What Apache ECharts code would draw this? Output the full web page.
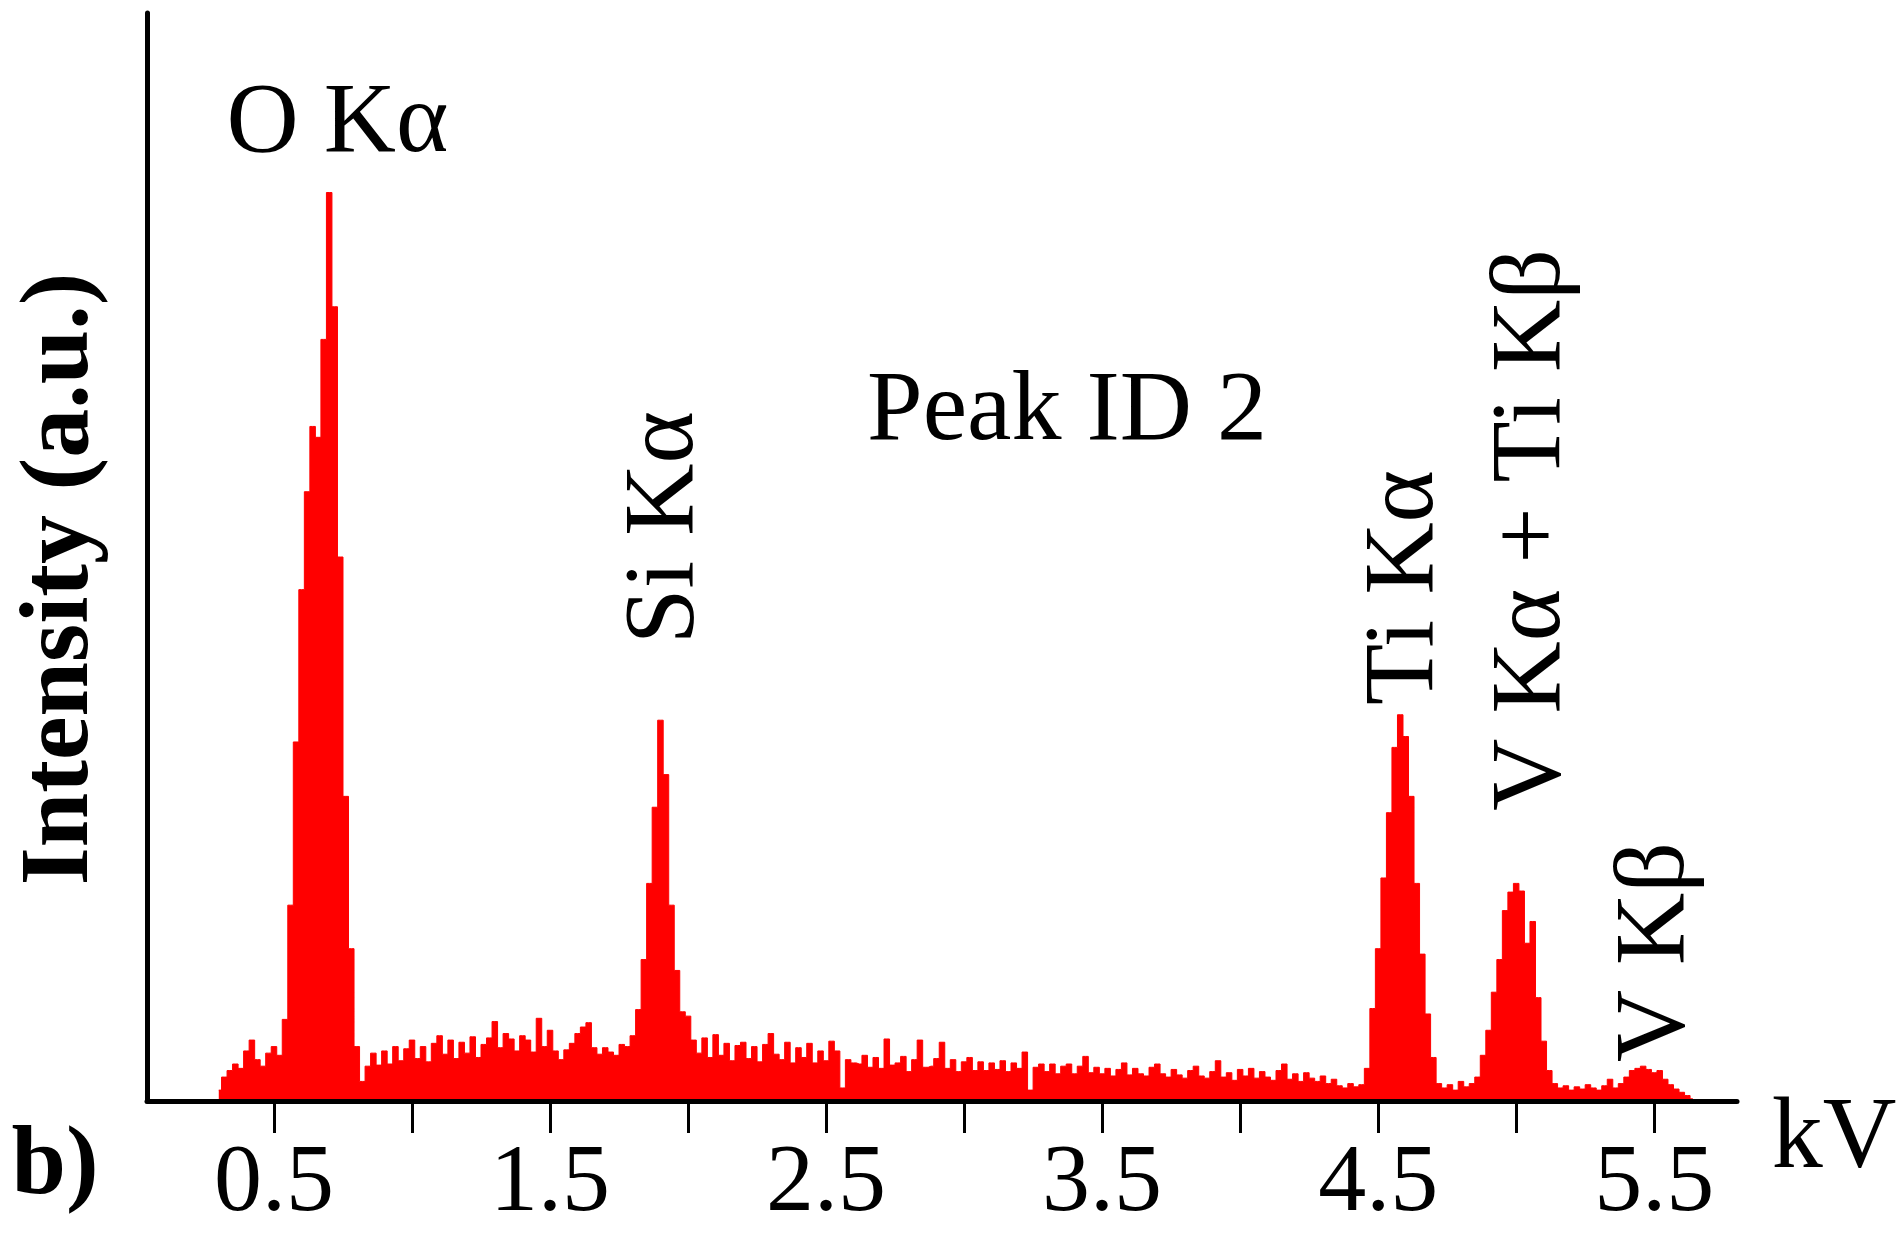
<!DOCTYPE html>
<html>
<head>
<meta charset="utf-8">
<title>EDS spectrum - Peak ID 2</title>
<script src="https://cdn.jsdelivr.net/npm/echarts@6/dist/echarts.min.js"></script>
<style>
    html, body { margin: 0; padding: 0; background: #fff; }
    #spectrum { width: 1902px; height: 1233px; }
</style>
</head>
<body>
<div id="spectrum"></div>
<script>
// channel calibration of the spectrum (kV)
const channelStart = 0.30;
const channelWidth = 0.02;

// intensity per channel (a.u.), 0.30 ... 5.64 kV
const counts = [
    1.0, 2.2, 2.8, 3.4, 3.0, 4.6, 5.6, 3.8, 3.2, 4.4,   // 0.30
    5.0, 4.2, 7.5, 18, 33, 47, 56, 62, 61, 70,          // 0.50
    83.5, 73, 50, 28, 14, 5.0, 1.8, 3.2, 4.4, 3.3,      // 0.70
    4.6, 3.4, 5.0, 3.7, 4.8, 5.6, 3.9, 5.0, 3.6, 5.3,   // 0.90
    6.0, 4.3, 5.6, 3.9, 5.4, 4.4, 5.9, 4.0, 5.2, 5.8,   // 1.10
    7.3, 4.9, 6.2, 5.7, 4.6, 6.0, 5.6, 4.5, 7.6, 5.0,   // 1.30
    6.5, 4.6, 3.8, 4.7, 5.3, 6.2, 6.8, 7.2, 4.9, 4.3,   // 1.50
    4.9, 4.5, 4.2, 5.2, 5.0, 6.0, 8.4, 13, 20, 27,      // 1.70
    35, 30, 18, 12, 8.2, 7.8, 5.6, 4.4, 5.8, 4.0,       // 1.90
    6.1, 4.2, 5.3, 3.7, 5.1, 5.4, 3.9, 5.0, 3.6, 5.2,   // 2.10
    6.2, 4.3, 3.8, 5.4, 3.5, 4.9, 4.0, 5.3, 3.5, 4.6,   // 2.30
    3.7, 5.5, 4.6, 1.2, 3.8, 3.5, 3.4, 4.2, 3.1, 4.0,   // 2.50
    3.0, 5.7, 3.3, 3.5, 4.1, 2.7, 3.8, 5.6, 3.1, 3.2,   // 2.70
    3.9, 5.4, 3.0, 3.8, 2.7, 3.6, 4.0, 2.8, 3.6, 2.8,   // 2.90
    3.5, 2.9, 3.7, 2.7, 3.5, 3.0, 4.5, 1.0, 3.1, 3.4,   // 3.10
    2.7, 3.4, 2.5, 3.2, 3.4, 2.5, 3.2, 4.1, 2.6, 3.1,   // 3.30
    2.5, 3.0, 2.3, 2.9, 3.5, 2.4, 3.0, 2.5, 2.3, 3.1,   // 3.50
    3.4, 2.5, 2.2, 2.9, 2.4, 2.1, 2.8, 3.2, 2.3, 2.1,   // 3.70
    2.7, 3.7, 2.2, 2.6, 1.9, 2.9, 2.3, 3.0, 2.1, 2.7,   // 3.90
    2.2, 1.9, 2.8, 3.4, 2.0, 2.5, 1.8, 2.6, 2.1, 1.8,   // 4.10
    2.3, 1.6, 2.0, 1.4, 1.2, 1.6, 1.3, 1.5, 3.0, 8.5,   // 4.30
    14, 20.5, 26.5, 32.5, 35.5, 33.5, 28, 20, 13.5, 8.0, // 4.50
    4.0, 1.6, 1.2, 1.5, 1.0, 1.8, 1.3, 1.6, 2.2, 4.2,   // 4.70
    6.5, 10, 13, 17.5, 19.2, 20, 19.3, 14.5, 16.5, 9.5, // 4.90
    5.5, 2.8, 1.6, 1.2, 1.4, 1.0, 1.3, 1.1, 1.5, 1.2,   // 5.10
    1.0, 1.4, 2.0, 1.2, 1.6, 2.2, 2.8, 3.0, 3.2, 2.9,   // 5.30
    2.6, 2.8, 2.0, 1.5, 1.1, 0.8, 0.5, 0.2              // 5.50
];

const tickValues = [0.5, 1.0, 1.5, 2.0, 2.5, 3.0, 3.5, 4.0, 4.5, 5.0, 5.5];
const tickLabels = ['0.5', '1.5', '2.5', '3.5', '4.5', '5.5'];
const peakNames = ['O Kα', 'Si Kα', 'Ti Kα', 'V Kα + Ti Kβ', 'V Kβ'];
const sampleName = 'Peak ID 2';

const serif = 'Liberation Serif, Times New Roman, serif';

document.addEventListener("DOMContentLoaded", function () {
    var chart = echarts.init(document.getElementById("spectrum"));

    var spectrum = counts.map(function (c, i) {
        return [+(channelStart + i * channelWidth).toFixed(2), c];
    });

    var option = {
        animation: false,
        backgroundColor: '#fff',
        grid: { left: 147, right: 165, top: 13, bottom: 132 },
        xAxis: {
            type: 'value',
            min: 0.04,
            max: 5.8,
            z: 10,
            splitLine: { show: false },
            axisLine: { show: true, lineStyle: { color: '#000', width: 5 } },
            axisTick: {
                show: true,
                customValues: tickValues,
                length: 32,
                lineStyle: { color: '#000', width: 3 }
            },
            axisLabel: {
                customValues: tickLabels.map(Number),
                formatter: function (v) { return v.toFixed(1); },
                margin: 36,
                color: '#000',
                fontFamily: serif,
                fontSize: 96
            }
        },
        yAxis: {
            type: 'value',
            min: 0,
            max: 100,
            z: 10,
            splitLine: { show: false },
            axisLine: { show: true, lineStyle: { color: '#000', width: 5 } },
            axisTick: { show: false },
            axisLabel: { show: false }
        },
        series: [{
            type: 'line',
            data: spectrum,
            step: 'middle',
            symbol: 'none',
            color: '#ff0000',
            lineStyle: { color: '#ff0000', width: 1 },
            areaStyle: { color: '#ff0000', opacity: 1 }
        }]
    };

    chart.setOption(option);

    // label positions in data space: [kV, intensity, rotated]
    var labelAt = [
        [0.73, 89.7, false],
        [1.92, 52.7, true],
        [4.60, 47.2, true],
        [5.06, 52.5, true],
        [5.51, 13.7, true]
    ];

    var graphics = [];
    peakNames.forEach(function (name, i) {
        var p = chart.convertToPixel({ gridIndex: 0 }, [labelAt[i][0], labelAt[i][1]]);
        graphics.push({
            type: 'text',
            x: p[0], y: p[1],
            rotation: labelAt[i][2] ? Math.PI / 2 : 0,
            style: {
                text: name, fill: '#000', font: '100px ' + serif,
                align: 'center', verticalAlign: 'middle'
            }
        });
    });

    var idPos = chart.convertToPixel({ gridIndex: 0 }, [3.373, 63.3]);
    graphics.push({
        type: 'text', x: idPos[0], y: idPos[1],
        style: { text: sampleName, fill: '#000', font: '100px ' + serif, align: 'center', verticalAlign: 'middle' }
    });

    // axis titles and panel letter
    graphics.push({
        type: 'text', x: 62, y: 579, rotation: Math.PI / 2,
        style: { text: 'Intensity (a.u.)', fill: '#000', font: 'bold 98px ' + serif, align: 'center', verticalAlign: 'middle' }
    });
    graphics.push({
        type: 'text', x: 1834, y: 1140,
        style: { text: 'kV', fill: '#000', font: '102px ' + serif, align: 'center', verticalAlign: 'middle' }
    });
    graphics.push({
        type: 'text', x: 55, y: 1168,
        style: { text: 'b)', fill: '#000', font: 'bold 98px ' + serif, align: 'center', verticalAlign: 'middle' }
    });

    chart.setOption({ graphic: graphics });
});
</script>
</body>
</html>
